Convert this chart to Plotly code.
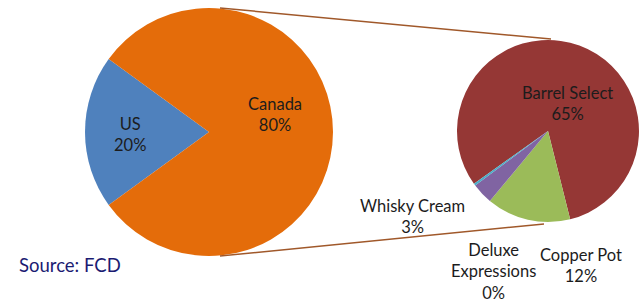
import plotly.graph_objects as go

# ---- data ----
country_labels = ["US", "Canada"]
country_values = [20, 80]

brand_labels = ["Barrel Select", "Copper Pot", "Whisky Cream", "Deluxe Expressions"]
brand_values = [65, 12, 3, 0.3]

source_text = "Source: FCD"

# ---- style ----
country_colors = ["#4F81BD", "#E46C0A"]
brand_colors = ["#953735", "#9BBB59", "#8064A2", "#4BACC6"]
FONT = "Lato"
TXT = "#1c1c1c"
FS = 16.5
W, H = 642, 303


def px_x(x):
    return x / W


def px_y(y):
    return 1 - y / H


fig = go.Figure()

# Left pie: center (209,132), r 124
lc, lr = (209, 132), 124
fig.add_trace(go.Pie(
    labels=country_labels, values=country_values,
    sort=False, direction="counterclockwise", rotation=-126,
    marker=dict(colors=country_colors, line=dict(width=0)),
    textinfo="none",
    domain=dict(x=[px_x(lc[0] - lr), px_x(lc[0] + lr)],
                y=[px_y(lc[1] + lr), px_y(lc[1] - lr)]),
    showlegend=False, hoverinfo="label+value",
))

# Right pie: center (548,131), r 91
rc, rr = (548, 131), 91
fig.add_trace(go.Pie(
    labels=brand_labels, values=brand_values,
    sort=False, direction="clockwise", rotation=234.5,
    marker=dict(colors=brand_colors, line=dict(width=0)),
    textinfo="none",
    domain=dict(x=[px_x(rc[0] - rr), px_x(rc[0] + rr)],
                y=[px_y(rc[1] + rr), px_y(rc[1] - rr)]),
    showlegend=False, hoverinfo="label+value",
))

# data label placements (pixel centres)
label_pos = {
    "US": (130, 135),
    "Canada": (275, 114),
    "Barrel Select": (567, 103),
    "Copper Pot": (581, 265),
    "Whisky Cream": (412, 216),
    "Deluxe Expressions": (493, 271),
}
display_name = {"Deluxe Expressions": "Deluxe<br>Expressions"}

annotations = []
for lab, val in list(zip(country_labels, country_values)) + list(zip(brand_labels, brand_values)):
    x, y = label_pos[lab]
    txt = display_name.get(lab, lab)
    annotations.append(dict(
        x=px_x(x), y=px_y(y), xref="paper", yref="paper",
        text=f"{txt}<br>{val:.0f}%", showarrow=False,
        font=dict(family=FONT, size=FS, color=TXT),
        xanchor="center", yanchor="middle", align="center",
    ))
annotations.append(dict(
    x=px_x(17), y=px_y(265), xref="paper", yref="paper",
    text=source_text, showarrow=False,
    font=dict(family=FONT, size=18.5, color="#1B1B72"),
    xanchor="left", yanchor="middle",
))

line_col = "#A0582A"
shapes = [
    dict(type="line", xref="paper", yref="paper",
         x0=px_x(220), y0=px_y(8), x1=px_x(551), y1=px_y(39),
         line=dict(color=line_col, width=1.5)),
    dict(type="line", xref="paper", yref="paper",
         x0=px_x(220), y0=px_y(256), x1=px_x(544), y1=px_y(224),
         line=dict(color=line_col, width=1.5)),
]

fig.update_layout(
    width=W, height=H,
    margin=dict(l=0, r=0, t=0, b=0),
    paper_bgcolor="white", plot_bgcolor="white",
    annotations=annotations, shapes=shapes,
    font=dict(family=FONT),
)

fig.write_html("out.html", config={"displayModeBar": False},
               post_script="document.body.style.margin='0px';")
